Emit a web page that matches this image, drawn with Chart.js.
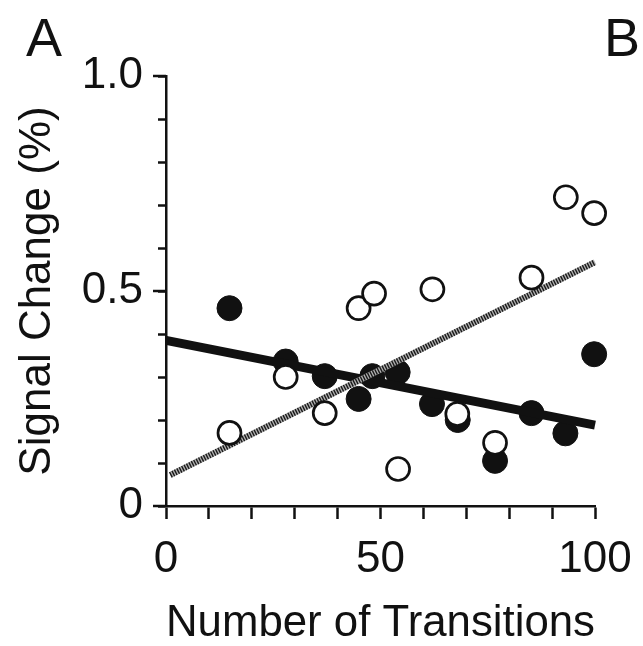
<!DOCTYPE html>
<html>
<head>
<meta charset="utf-8">
<script src="https://cdn.jsdelivr.net/npm/chart.js@4.4.1/dist/chart.umd.min.js"></script>
<style>
html,body{margin:0;padding:0;background:#fff;}
#wrap{position:relative;width:643px;height:646px;}
canvas{display:block;}
.panel{position:absolute;font-family:"Liberation Sans",Arial,sans-serif;font-size:54px;color:#111;line-height:1;}
</style>
</head>
<body>
<div id="wrap">
<canvas id="c" width="643" height="646"></canvas>
<div class="panel" style="left:26px;top:10px;">A</div>
<div class="panel" style="left:604px;top:10px;">B</div>
</div>
<script>
// Data
const filledX = [14.8, 27.9, 37.0, 44.9, 48.1, 54.0, 62.0, 68.0, 76.7, 85.2, 93.1, 99.8];
const filledY = [0.460, 0.336, 0.302, 0.249, 0.302, 0.311, 0.237, 0.200, 0.105, 0.216, 0.169, 0.353];
const openX   = [14.8, 27.9, 37.0, 44.9, 48.5, 54.1, 62.1, 67.9, 76.7, 85.2, 93.2, 99.8];
const openY   = [0.170, 0.300, 0.216, 0.460, 0.494, 0.086, 0.504, 0.214, 0.147, 0.531, 0.718, 0.681];
const blackFitX = [0, 100];
const blackFitY = [0.385, 0.188];
const grayFitX = [1, 100];
const grayFitY = [0.072, 0.567];
const yTickLabels = {"0": "0", "0.5": "0.5", "1": "1.0"};
const xTickLabels = {"0": "0", "50": "50", "100": "100"};
const xTitle = "Number of Transitions";
const yTitle = "Signal Change (%)";

const pts = (xs, ys) => xs.map((x, i) => ({x: x, y: ys[i]}));
const FONT = '"Liberation Sans", Arial, sans-serif';

const majorTicks = {
  id: 'majorTicks',
  afterDraw(chart) {
    const ctx = chart.ctx;
    const y = chart.scales.y, x = chart.scales.x;
    ctx.save();
    ctx.strokeStyle = '#111';
    ctx.lineWidth = 2.5;
    ctx.lineCap = 'butt';
    [0, 0.5, 1].forEach(v => {
      const py = y.getPixelForValue(v);
      ctx.beginPath();
      ctx.moveTo(x.left - 13, py);
      ctx.lineTo(x.left, py);
      ctx.stroke();
    });
    ctx.restore();
  }
};

new Chart(document.getElementById('c'), {
  type: 'scatter',
  data: {
    datasets: [
      {
        label: 'open',
        data: pts(openX, openY),
        backgroundColor: '#fff',
        borderColor: '#111',
        borderWidth: 2.7,
        pointRadius: 11.5,
        order: 0,
        clip: false
      },
      {
        label: 'grayFitStripes',
        type: 'line',
        data: pts(grayFitX, grayFitY),
        borderColor: '#1a1a1a',
        borderWidth: 6,
        borderDash: [1.4, 1.3],
        borderCapStyle: 'butt',
        pointRadius: 0,
        fill: false,
        order: 1,
        clip: false
      },
      {
        label: 'grayFit',
        type: 'line',
        data: pts(grayFitX, grayFitY),
        borderColor: '#b0b0b0',
        borderWidth: 6,
        pointRadius: 0,
        fill: false,
        order: 2,
        clip: false
      },
      {
        label: 'blackFit',
        type: 'line',
        data: pts(blackFitX, blackFitY),
        borderColor: '#111',
        borderWidth: 9,
        pointRadius: 0,
        fill: false,
        order: 3,
        clip: false
      },
      {
        label: 'filled',
        data: pts(filledX, filledY),
        backgroundColor: '#111',
        borderColor: '#111',
        borderWidth: 1,
        pointRadius: 12.5,
        order: 4,
        clip: false
      }
    ]
  },
  options: {
    responsive: false,
    animation: false,
    devicePixelRatio: 1,
    layout: {padding: {left: 0, right: 48, top: 76, bottom: 0}},
    plugins: {legend: {display: false}, tooltip: {enabled: false}},
    scales: {
      x: {
        type: 'linear',
        min: 0, max: 100,
        afterFit(s) { s.height = 140; s.paddingLeft = 0; s.paddingRight = 0; },
        border: {display: true, color: '#111', width: 2.5},
        grid: {display: true, drawOnChartArea: false, drawTicks: true, tickLength: 13, tickWidth: 2.5, tickColor: '#111'},
        ticks: {
          stepSize: 10,
          autoSkip: false,
          maxRotation: 0,
          padding: 19,
          color: '#111',
          font: {family: FONT, size: 44, lineHeight: 1},
          callback: v => xTickLabels[String(v)] !== undefined ? xTickLabels[String(v)] : ''
        },
        title: {
          display: true,
          text: xTitle,
          color: '#111',
          font: {family: FONT, size: 45, lineHeight: 0.5},
          padding: {top: 0, bottom: 11}
        }
      },
      y: {
        type: 'linear',
        min: 0, max: 1,
        afterFit(s) { s.width = 166; },
        border: {display: true, color: '#111', width: 2.5},
        grid: {display: true, drawOnChartArea: false, drawTicks: true, tickLength: 8, tickWidth: 2.5, tickColor: '#111'},
        ticks: {
          stepSize: 0.1,
          autoSkip: false,
          padding: 15,
          color: '#111',
          font: {family: FONT, size: 44, lineHeight: 1},
          callback: v => {
            const r = Math.round(v * 10) / 10;
            return yTickLabels[String(r)] !== undefined ? yTickLabels[String(r)] : '';
          }
        },
        title: {
          display: true,
          text: yTitle,
          color: '#111',
          font: {family: FONT, size: 44, lineHeight: 1},
          padding: {top: 16, bottom: 0}
        }
      }
    }
  },
  plugins: [majorTicks]
});
</script>
</body>
</html>
